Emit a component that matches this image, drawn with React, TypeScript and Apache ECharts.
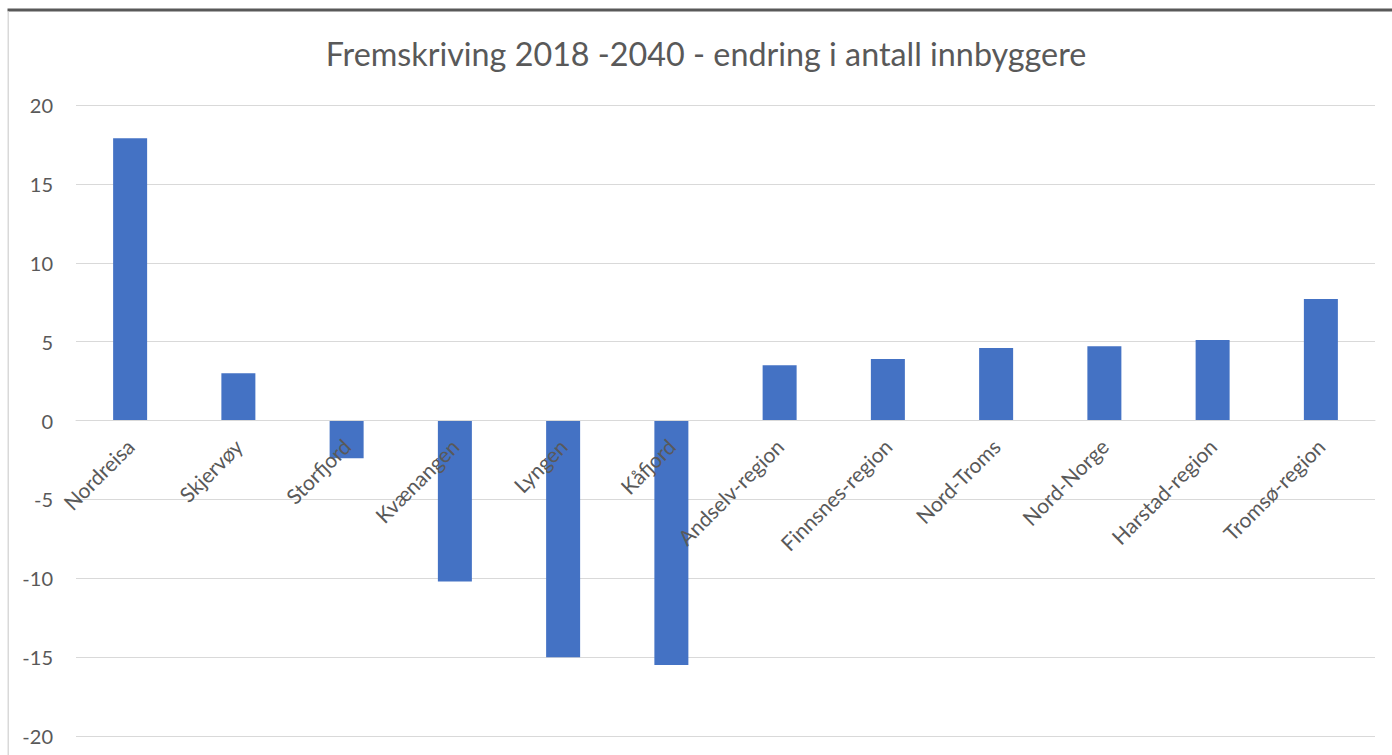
import React, { useEffect, useRef } from "react";
import * as echarts from "echarts";

const categories = [
  "Nordreisa",
  "Skjervøy",
  "Storfjord",
  "Kvænangen",
  "Lyngen",
  "Kåfjord",
  "Andselv-region",
  "Finnsnes-region",
  "Nord-Troms",
  "Nord-Norge",
  "Harstad-region",
  "Tromsø-region",
];
const values = [17.9, 3.0, -2.4, -10.2, -15.0, -15.5, 3.5, 3.9, 4.6, 4.7, 5.1, 7.7];
const titleText = "Fremskriving 2018 -2040 - endring i antall innbyggere";
const yMin = -20;
const yMax = 20;
const yStep = 5;

export default function App() {
  const ref = useRef<HTMLDivElement>(null);
  useEffect(() => {
    document.body.style.margin = "0";
    const chart = echarts.init(ref.current!, null, { renderer: "svg" });
    const font = "Lato, 'Open Sans', sans-serif";
    const gridTop = 105;
    const gridBottom = 19;
    const plotH = 755 - gridTop - gridBottom;
    const zeroOffset = -plotH * (0 - yMin) / (yMax - yMin);
    chart.setOption({
      animation: false,
      backgroundColor: "#ffffff",
      title: {
        text: titleText,
        left: 701,
        textAlign: "center",
        top: 32,
        textStyle: { fontFamily: font, fontSize: 32.3, fontWeight: "normal", color: "#595959" },
      },
      graphic: [
        { type: "rect", shape: { x: 7.5, y: 8.5, width: 1400, height: 3 }, style: { fill: "#595959" }, silent: true },
        { type: "rect", shape: { x: 7.5, y: 11.5, width: 1.5, height: 760 }, style: { fill: "#d9d9d9" }, silent: true },
      ],
      grid: { left: 76, right: 17, top: gridTop, bottom: gridBottom, containLabel: false, outerBoundsMode: "none" },
      xAxis: {
        type: "category",
        data: categories,
        z: 5,
        position: "bottom",
        offset: zeroOffset,
        axisLine: { show: true, onZero: false, lineStyle: { color: "#d9d9d9", width: 1 } },
        axisTick: { show: false },
        axisLabel: {
          rotate: 45,
          interval: 0,
          margin: 22,
          fontFamily: font,
          fontSize: 21,
          color: "#595959",
        },
        splitLine: { show: false },
      },
      yAxis: {
        type: "value",
        min: yMin,
        max: yMax,
        interval: yStep,
        axisLine: { show: false },
        axisTick: { show: false },
        axisLabel: { margin: 23, fontFamily: font, fontSize: 20, color: "#595959" },
        splitLine: { lineStyle: { color: "#d9d9d9", width: 1 } },
      },
      series: [
        {
          type: "bar",
          data: values,
          barWidth: 34,
          itemStyle: { color: "#4472C4" },
        },
      ],
    });
    return () => chart.dispose();
  }, []);
  return <div ref={ref} style={{ width: 1392, height: 755 }} />;
}
